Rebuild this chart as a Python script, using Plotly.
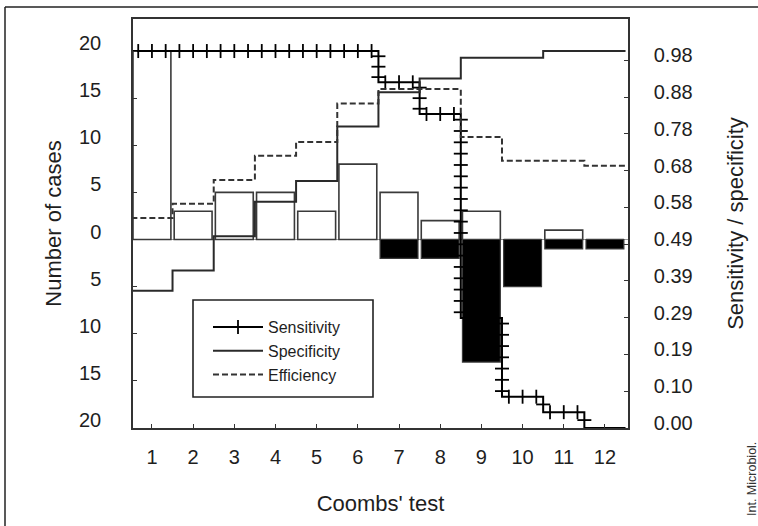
import plotly.graph_objects as go

# ---------------- data ----------------
categories = [1, 2, 3, 4, 5, 6, 7, 8, 9, 10, 11, 12]
negative_cases = [20, 3, 5, 5, 3, 8, 5, 2, 3, 0, 1, 0]      # open bars, drawn upward
positive_cases = [0, 0, 0, 0, 0, 0, 2, 2, 13, 5, 1, 1]      # black bars, drawn downward
sensitivity = [1.0, 1.0, 1.0, 1.0, 1.0, 1.0, 0.917, 0.833, 0.292, 0.083, 0.042, 0.0]
specificity = [0.364, 0.418, 0.509, 0.600, 0.655, 0.800, 0.891, 0.927, 0.982, 0.982, 1.0, 1.0]
efficiency = [0.557, 0.595, 0.658, 0.722, 0.759, 0.861, 0.899, 0.899, 0.772, 0.709, 0.709, 0.696]

left_tickvals = [-20, -15, -10, -5, 0, 5, 10, 15, 20]
left_ticktext = ["20", "15", "10", "5", "0", "5", "10", "15", "20"]
right_tickvals = [0.0, 0.098, 0.195, 0.293, 0.390, 0.488, 0.585, 0.683, 0.780, 0.878, 0.976]
right_ticktext = ["0.00", "0.10", "0.19", "0.29", "0.39", "0.49", "0.58", "0.68", "0.78", "0.88", "0.98"]

# ---------------- helpers ----------------
edges = [c - 0.5 for c in categories] + [categories[-1] + 0.5]


def step_y(vals):
    return list(vals) + [vals[-1]]


def step_tick_marks(xe, vals, dx=0.34, dy=0.03):
    """Decorative cross-ticks along a step line (like the '+++' style)."""
    segs = []
    start, cur = xe[0], vals[0]
    for i in range(1, len(vals)):
        if vals[i] != cur:
            segs.append(("h", start, xe[i], cur))
            segs.append(("v", xe[i], cur, vals[i]))
            start, cur = xe[i], vals[i]
    segs.append(("h", start, xe[-1], cur))
    xs, ys, sym = [], [], []
    for s in segs:
        if s[0] == "h":
            _, a, b, v = s
            if v <= 0:
                continue
            n = max(1, round((b - a) / dx))
            for k in range(n):
                xs.append(a + (k + 0.5) * (b - a) / n)
                ys.append(v)
                sym.append("line-ns")
        else:
            _, xv, v0, v1 = s
            n = max(1, round(abs(v0 - v1) / dy))
            for k in range(n):
                xs.append(xv)
                ys.append(v0 + (k + 0.5) * (v1 - v0) / n)
                sym.append("line-ew")
    return xs, ys, sym


INK = "#1e1e1e"
FONT = "Liberation Sans, Arial, sans-serif"

fig = go.Figure()

# bars (left axis)
fig.add_trace(go.Bar(
    x=categories, y=negative_cases, width=0.92, yaxis="y",
    marker=dict(color="white", line=dict(color="#3a3a3a", width=1.6)),
    showlegend=False, hoverinfo="skip"))

# legend proxy for sensitivity (line with cross ticks)
fig.add_trace(go.Scatter(
    x=[None], y=[None], yaxis="y2", mode="lines+markers", name="Sensitivity",
    line=dict(color="black", width=2),
    marker=dict(symbol="line-ns", size=10, line=dict(color="black", width=1.8)),
    legendgroup="sens"))

# sensitivity step line
fig.add_trace(go.Scatter(
    x=edges, y=step_y(sensitivity), yaxis="y2", mode="lines", line_shape="hv",
    line=dict(color="black", width=2), name="Sensitivity", showlegend=False,
    legendgroup="sens"))
tx, ty, ts = step_tick_marks(edges, sensitivity)
fig.add_trace(go.Scatter(
    x=tx, y=ty, yaxis="y2", mode="markers",
    marker=dict(symbol=ts, size=10, line=dict(color="black", width=1.8)),
    showlegend=False, hoverinfo="skip", legendgroup="sens"))

# specificity
fig.add_trace(go.Scatter(
    x=edges, y=step_y(specificity), yaxis="y2", mode="lines", line_shape="hv",
    line=dict(color="#2a2a2a", width=2), name="Specificity"))

# efficiency
fig.add_trace(go.Scatter(
    x=edges, y=step_y(efficiency), yaxis="y2", mode="lines", line_shape="hv",
    line=dict(color="#333333", width=2, dash="6px,3px"), name="Efficiency"))

# black bars drawn last so they hide the line parts behind them (as in the original)
fig.add_trace(go.Bar(
    x=categories, y=[-v for v in positive_cases], width=0.92, yaxis="y",
    marker=dict(color="black", line=dict(color="#3a3a3a", width=1.2)),
    showlegend=False, hoverinfo="skip"))

# ---------------- layout ----------------
W, H = 758, 526
L, R, T, B = 133, 130, 19, 98
pw, ph = W - L - R, H - T - B


def px_x(x):
    return (x - L) / pw


def px_y(y):
    return (H - B - y) / ph


fig.update_layout(
    width=W, height=H,
    margin=dict(l=L, r=R, t=T, b=B, pad=0),
    paper_bgcolor="white", plot_bgcolor="white",
    barmode="overlay",
    font=dict(family=FONT, color=INK),
    showlegend=True,
    legend=dict(
        x=px_x(208), y=px_y(310), xanchor="left", yanchor="top",
        bgcolor="rgba(0,0,0,0)", borderwidth=0,
        font=dict(family=FONT, size=16, color=INK),
        itemwidth=50, tracegroupgap=0, traceorder="normal"),
    xaxis=dict(
        range=[0.54, 12.56], tickmode="array", tickvals=categories,
        ticktext=[str(c) for c in categories],
        ticks="inside", ticklen=4, tickwidth=1.3, tickcolor="#333",
        showline=True, linecolor="#333", linewidth=1.5, mirror=True,
        showgrid=False, zeroline=False,
        tickfont=dict(family=FONT, size=20, color=INK),
        ticklabelstandoff=10,
        title=dict(text="Coombs' test", font=dict(family=FONT, size=22, color=INK),
                   standoff=29)),
    yaxis=dict(
        range=[-20, 23.4], tickmode="array", tickvals=left_tickvals,
        ticktext=left_ticktext,
        ticks="inside", ticklen=4, tickwidth=1.3, tickcolor="#333",
        showline=True, linecolor="#333", linewidth=1.5,
        showgrid=False, zeroline=True, zerolinecolor="#9a9a9a", zerolinewidth=1,
        tickfont=dict(family=FONT, size=20, color=INK),
        ticklabelstandoff=26, ticklabelshift=-8,
        title=dict(text="Number of cases", font=dict(family=FONT, size=22, color=INK),
                   standoff=11)),
    yaxis2=dict(
        overlaying="y", side="right", anchor="x",
        range=[0, 1.085], tickmode="array", tickvals=right_tickvals,
        ticktext=right_ticktext,
        ticks="inside", ticklen=4, tickwidth=1.3, tickcolor="#333",
        showline=True, linecolor="#333", linewidth=1.5,
        showgrid=False, zeroline=False,
        tickfont=dict(family=FONT, size=20, color=INK),
        ticklabelstandoff=20, ticklabelshift=-5,
        title=dict(text="Sensitivity / specificity",
                   font=dict(family=FONT, size=22, color=INK), standoff=36)),
    shapes=[
        # legend frame
        dict(type="rect", xref="paper", yref="paper",
             x0=px_x(193), x1=px_x(373), y0=px_y(397), y1=px_y(300),
             line=dict(color="#222", width=1.6), fillcolor="rgba(0,0,0,0)"),
        # outer image border (top and left edges)
        dict(type="line", xref="paper", yref="paper",
             x0=px_x(5), x1=px_x(770), y0=px_y(7), y1=px_y(7),
             line=dict(color="#222", width=1.5)),
        dict(type="line", xref="paper", yref="paper",
             x0=px_x(5), x1=px_x(5), y0=px_y(7), y1=px_y(540),
             line=dict(color="#222", width=1.5)),
    ],
    annotations=[
        dict(text="Int. Microbiol.", xref="paper", yref="paper",
             x=px_x(752), y=px_y(479), textangle=-90, showarrow=False,
             font=dict(family=FONT, size=12.5, color="#333"),
             xanchor="center", yanchor="middle"),
    ],
)

fig.write_html("out.html")
